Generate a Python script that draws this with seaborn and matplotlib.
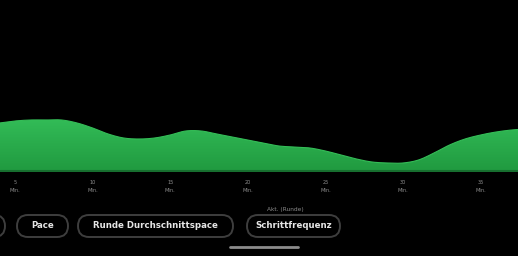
import numpy as np
import pandas as pd
import matplotlib
matplotlib.use("Agg")
import matplotlib.pyplot as plt
import seaborn as sns
from matplotlib.patches import Polygon, FancyBboxPatch

# ---- data ----
minutes = [4, 5, 6, 7, 8, 9, 10, 11, 12, 13, 14, 15, 16, 17, 18, 19, 20, 21,
           22, 23, 24, 25, 26, 27, 28, 29, 30, 31, 32, 33, 34, 35, 36, 37, 38]
elevation = [49, 51, 52, 52, 52, 49, 44, 38, 34, 33, 34, 37, 41, 41, 38, 35, 32, 29,
             26, 25, 24, 21, 17, 13, 10, 9, 9, 12, 19, 27, 33, 37, 40, 42, 43]
tick_values = [5, 10, 15, 20, 25, 30, 35]
tick_labels = ["5\nMin.", "10\nMin.", "15\nMin.", "20\nMin.", "25\nMin.", "30\nMin.", "35\nMin."]
chips = ["Pace", "Runde Durchschnittspace", "Schrittfrequenz"]
chip_caption = "Akt. (Runde)"

df = pd.DataFrame({"min": minutes, "elev": elevation})

sns.set_theme(style="dark")
plt.rcParams["font.family"] = ["DejaVu Sans"]

W, H = 518, 256
fig = plt.figure(figsize=(W / 100, H / 100), dpi=100, facecolor="black")
ax = fig.add_axes([0, 1 - 172 / H, 1, 172 / H], facecolor="black")


def catmull(xs, ys, n=12):
    xs = np.asarray(xs, float)
    ys = np.asarray(ys, float)
    px = np.concatenate([[2 * xs[0] - xs[1]], xs, [2 * xs[-1] - xs[-2]]])
    py = np.concatenate([[2 * ys[0] - ys[1]], ys, [2 * ys[-1] - ys[-2]]])
    ox, oy = [], []
    t = np.linspace(0, 1, n, endpoint=False)
    for i in range(1, len(px) - 2):
        for arr, out in ((px, ox), (py, oy)):
            p0, p1, p2, p3 = arr[i - 1], arr[i], arr[i + 1], arr[i + 2]
            out.extend(0.5 * ((2 * p1) + (-p0 + p2) * t + (2 * p0 - 5 * p1 + 4 * p2 - p3) * t ** 2
                              + (-p0 + 3 * p1 - 3 * p2 + p3) * t ** 3))
    ox.append(xs[-1])
    oy.append(ys[-1])
    return np.array(ox), np.array(oy)


sx, sy = catmull(df["min"], df["elev"])
smooth = pd.DataFrame({"min": sx, "elev": sy})
sns.lineplot(data=smooth, x="min", y="elev", ax=ax, color="#34bd57", linewidth=0.8,
             sort=False, zorder=4)

x0 = 5 - 15 / 15.52
x1 = x0 + W / 15.52
ax.set_xlim(x0, x1)

grad = np.linspace(0, 1, 256).reshape(-1, 1)
cmap = matplotlib.colors.LinearSegmentedColormap.from_list("g", ["#33bd58", "#20993f"])
im = ax.imshow(grad, cmap=cmap, aspect="auto", extent=[x0, x1, 0, 55], zorder=1,
               origin="upper")
verts = [(sx[0], 0)] + list(zip(sx, sy)) + [(sx[-1], 0)]
poly = Polygon(verts, closed=True, facecolor="none", edgecolor="none")
ax.add_patch(poly)
im.set_clip_path(poly)
ax.set_ylim(0, 172)
ax.axhline(1.2, color="#176f2f", linewidth=2.2, zorder=3)

ax.set_xticks(tick_values)
ax.set_xticklabels(tick_labels, fontsize=3.6, color="#8d8d8d", linespacing=1.6)
ax.tick_params(axis="x", length=0, pad=6)
ax.set_yticks([])
ax.set_xlabel("")
ax.set_ylabel("")
ax.grid(False)
for s in ax.spines.values():
    s.set_visible(False)


def fx(px):
    return px / W


def fy(py):
    return 1 - py / H


def pill(left, right, top, bottom):
    h = bottom - top
    r = h / 2
    p = FancyBboxPatch((left + r, H - bottom + r), (right - left) - 2 * r, h - 2 * r,
                       boxstyle=f"round,pad={r},rounding_size={r}",
                       transform=None, facecolor="black", edgecolor="#3e3e3e",
                       linewidth=1.4)
    fig.add_artist(p)


# partially visible chip at left edge
pill(-80, 5, 215, 237)
chip_specs = [(17, 68), (78, 233), (247, 340)]
for label, (l, r) in zip(chips, chip_specs):
    pill(l, r, 215, 237)
    fig.text(fx((l + r) / 2), fy(226), label, ha="center", va="center", fontsize=6.2,
             fontweight="bold", color="#e6e6e6")

fig.text(fx(285), fy(210), chip_caption, ha="center", va="center", fontsize=4.2,
         color="#8a8a8a")

fig.add_artist(plt.Line2D([fx(230), fx(298)], [fy(247), fy(247)], color="#8c8c8c",
                          linewidth=2, solid_capstyle="round", transform=fig.transFigure))

fig.savefig("out.png", dpi=100, facecolor="black")
